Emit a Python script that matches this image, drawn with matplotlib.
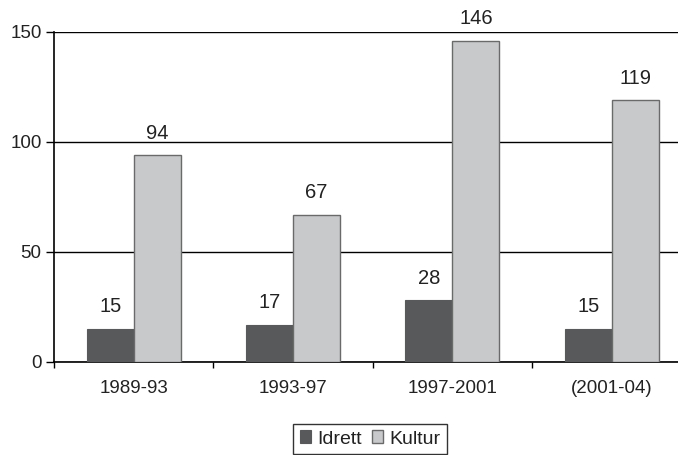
import numpy as np
import matplotlib
matplotlib.use("Agg")
import matplotlib.pyplot as plt

periods = ["1989-93", "1993-97", "1997-2001", "(2001-04)"]
idrett = [15, 17, 28, 15]
kultur = [94, 67, 146, 119]

plt.rcParams["font.family"] = ["Liberation Sans", "DejaVu Sans"]

fig = plt.figure(figsize=(6.78, 4.55), dpi=100)
# axes run slightly past the right edge, as in the reference
ax = fig.add_axes([54 / 678, 1 - 362 / 455, 637.4 / 678, 330 / 455])

x = np.arange(len(periods))
w = 0.295
dark = "#58595b"
light = "#c8c9cb"
txt = "#222222"

ax.yaxis.grid(True, color="black", linewidth=1.0)
ax.set_axisbelow(True)
b1 = ax.bar(x - w / 2, idrett, w, color=dark, edgecolor=dark, linewidth=0.8,
            label="Idrett", zorder=3)
b2 = ax.bar(x + w / 2, kultur, w, color=light, edgecolor="#6a6a6a", linewidth=1.0,
            label="Kultur", zorder=3)

for bars, vals in ((b1, idrett), (b2, kultur)):
    for rect, v in zip(bars, vals):
        ax.annotate(str(v), (rect.get_x() + rect.get_width() / 2, v),
                    xytext=(0, 9), textcoords="offset points",
                    ha="center", va="bottom", fontsize=14.5, color=txt)

ax.set_xlim(-0.5, len(periods) - 0.5)
ax.set_ylim(0, 150)
ax.set_yticks([0, 50, 100, 150])
ax.set_xticks(x)
ax.set_xticklabels(periods, fontsize=13.5, color=txt)
ax.set_xticks(np.arange(len(periods) + 1) - 0.5, minor=True)
ax.tick_params(axis="x", which="major", length=0, pad=13)
ax.tick_params(axis="x", which="minor", length=4, width=1, color="black")
ax.tick_params(axis="y", labelsize=13.5, labelcolor=txt, length=6, width=1, pad=3)

for side in ("top", "right"):
    ax.spines[side].set_visible(False)
for side in ("left", "bottom"):
    ax.spines[side].set_linewidth(1.2)
    ax.spines[side].set_color("black")

leg = fig.legend(handles=[b1, b2], loc="center", bbox_to_anchor=(370 / 678, 1 - 439 / 455),
                 ncol=2, fontsize=14, frameon=True, fancybox=False,
                 handlelength=0.6, handleheight=0.6, handletextpad=0.3,
                 columnspacing=0.5, borderpad=0.35, labelcolor=txt)
leg.get_frame().set_edgecolor("black")
leg.get_frame().set_linewidth(1.0)

fig.savefig("out.png", dpi=100)
